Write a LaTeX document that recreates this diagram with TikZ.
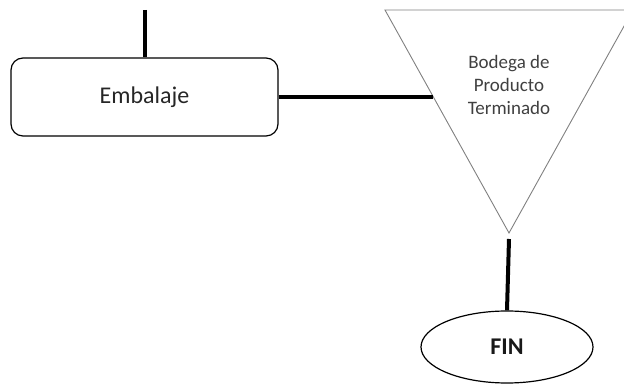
\documentclass[tikz,border=0pt]{standalone}
\usepackage{fontspec}
\setmainfont{Carlito}
\usetikzlibrary{shapes.geometric}

\begin{document}
\begin{tikzpicture}[x=1pt,y=1pt,
  proceso/.style={draw, rounded corners=12pt, line width=1.2pt,
    minimum width=267pt, minimum height=78pt,
    font=\fontsize{24}{29}\selectfont, text=black!85},
  fin/.style={draw, ellipse, line width=1.2pt, inner sep=0pt,
    minimum width=172pt, minimum height=72pt,
    font=\fontsize{24}{29}\selectfont\bfseries, text=black!90},
  enlace/.style={line width=4pt}]
\useasboundingbox (0,0) rectangle (624,385);
\clip (0,0) rectangle (624,385);

\coordinate (T1) at (385,375);
\coordinate (T2) at (633,375);
\coordinate (T3) at (509,152);
\draw[black!50, line width=0.9pt] (T1) -- (T2) -- (T3) -- cycle;
\node[align=center, font=\fontsize{19}{23}\selectfont, text=black!75] (bodega) at (509,300) {Bodega de\\Producto\\Terminado};

\node[proceso] (emb) at (144.5,288) {Embalaje};
\node[fin] (fin) at (507,38) {FIN};

\coordinate (arriba) at (144.5,375);
\coordinate (borde) at (433.4,288);
\coordinate (punta) at (509,146);

\draw[enlace] (arriba) -- (emb.north);
\draw[enlace] (emb.east) -- (borde);
\draw[enlace] (punta) -- (fin.north);
\end{tikzpicture}
\end{document}
